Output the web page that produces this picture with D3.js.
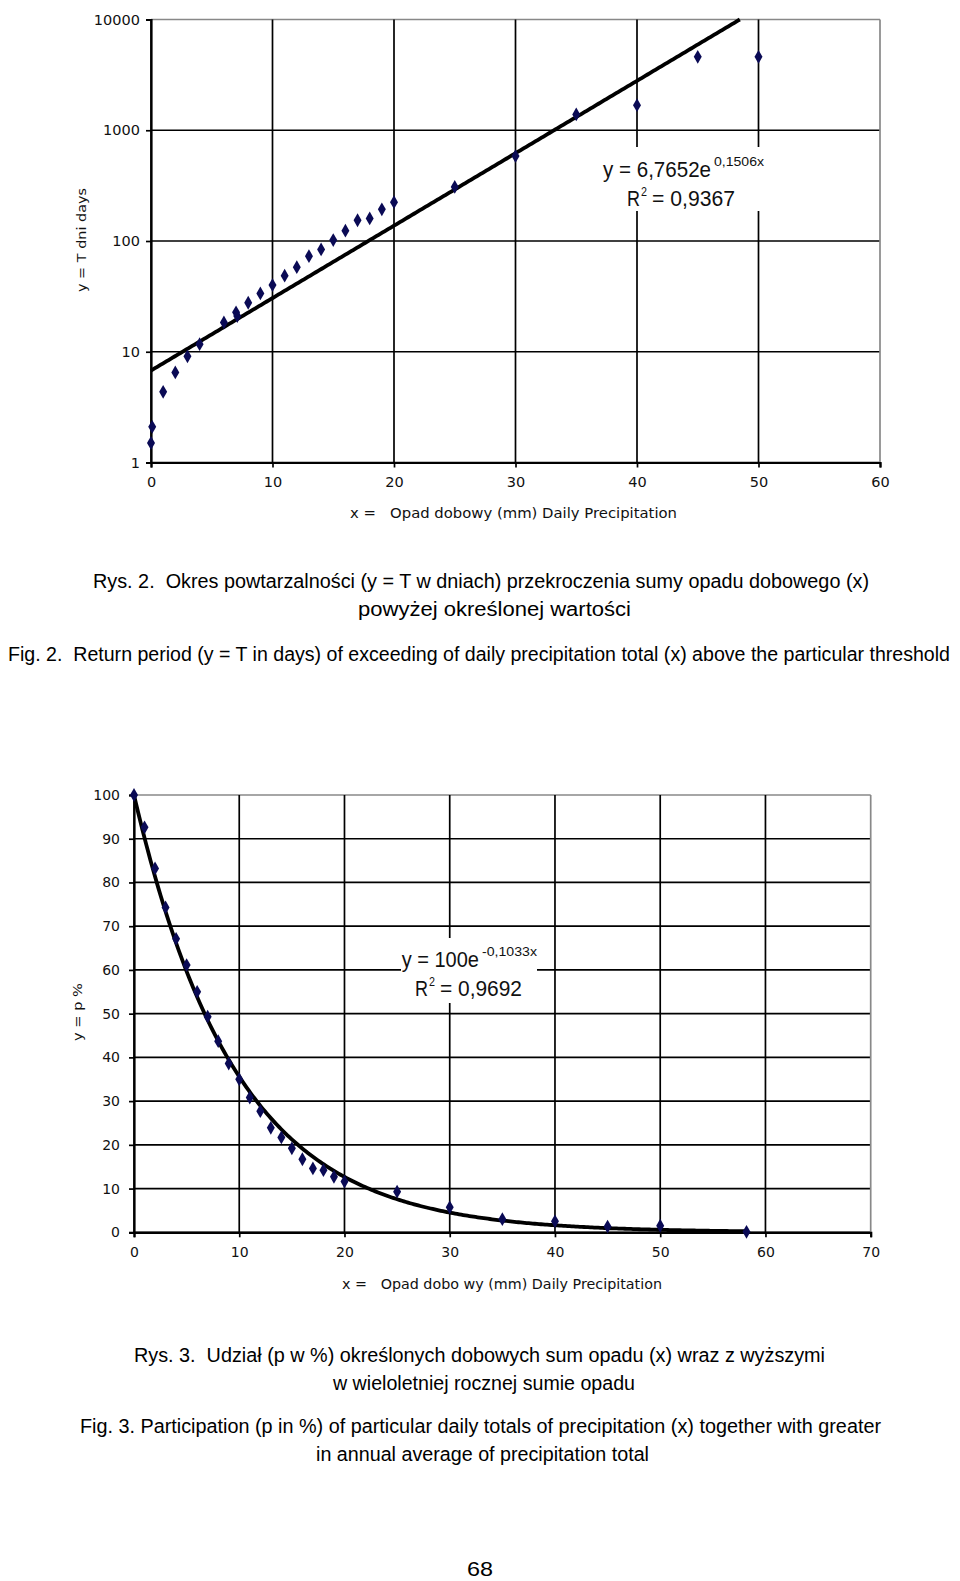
<!DOCTYPE html>
<html>
<head>
<meta charset="utf-8">
<script src="https://cdn.jsdelivr.net/npm/d3@7"></script>
<style>
html,body{margin:0;padding:0;background:#fff;}
svg{display:block;}
text{white-space:pre;}
</style>
</head>
<body>
<svg id="page" width="960" height="1581"></svg>
<script>
// ---------- DATA ----------
// Chart 1: return period T (days) vs daily precipitation threshold (mm), log y
const ch1X = [0, 0.1, 1, 2, 3, 4, 6, 7, 7.1, 8, 9, 10, 11, 12, 13, 14, 15, 16, 17, 18, 19, 20, 25, 30, 35, 40, 45, 50];
const ch1Y = [1.5, 2.1, 4.35, 6.5, 9.1, 11.7, 18.4, 22.7, 21, 27.7, 33.6, 40, 48.6, 58, 73, 84, 102, 124, 154, 160, 193, 224, 308, 584, 1390, 1685, 4600, 4600];
const ch1XTicks = [0, 10, 20, 30, 40, 50, 60];
const ch1YTicks = [1, 10, 100, 1000, 10000];
const ch1FitA = 6.7652, ch1FitB = 0.1506;
const ch1Eq = "y = 6,7652e", ch1EqExp = "0,1506x", ch1R2 = "0,9367";
const ch1XTitle = "x =   Opad dobowy (mm) Daily Precipitation";
const ch1YTitle = "y = T dni days";

// Chart 2: share p (%) vs daily precipitation (mm)
const ch2X = [0, 1, 2, 3, 4, 5, 6, 7, 8, 9, 10, 11, 12, 13, 14, 15, 16, 17, 18, 19, 20, 25, 30, 35, 40, 45, 50, 58.2];
const ch2Y = [100, 92.6, 83.2, 74.3, 67.1, 61.1, 55.0, 49.3, 43.7, 38.6, 35.0, 30.8, 27.7, 23.9, 21.7, 19.2, 16.7, 14.6, 14.2, 12.7, 11.6, 9.3, 5.7, 3.0, 2.5, 1.3, 1.5, 0.1];
const ch2XTicks = [0, 10, 20, 30, 40, 50, 60, 70];
const ch2YTicks = [0, 10, 20, 30, 40, 50, 60, 70, 80, 90, 100];
const ch2FitA = 100, ch2FitB = -0.1033;
const ch2Eq = "y = 100e", ch2EqExp = "-0,1033x", ch2R2 = "0,9692";
const ch2XTitle = "x =   Opad dobo wy (mm) Daily Precipitation";
const ch2YTitle = "y = p %";

const captions = [
  {t: "Rys. 2.  Okres powtarzalności (y = T w dniach) przekroczenia sumy opadu dobowego (x)", x0: 93, x1: 869, y: 581},
  {t: "powyżej określonej wartości", x0: 358, x1: 631, y: 609},
  {t: "Fig. 2.  Return period (y = T in days) of exceeding of daily precipitation total (x) above the particular threshold", x0: 8, x1: 950, y: 653.5},
  {t: "Rys. 3.  Udział (p w %) określonych dobowych sum opadu (x) wraz z wyższymi", x0: 134, x1: 825, y: 1355},
  {t: "w wieloletniej rocznej sumie opadu", x0: 333, x1: 635, y: 1382.5},
  {t: "Fig. 3. Participation (p in %) of particular daily totals of precipitation (x) together with greater", x0: 80, x1: 881, y: 1426},
  {t: "in annual average of precipitation total", x0: 316, x1: 649, y: 1454},
  {t: "68", x0: 467, x1: 493, y: 1569}
];

// ---------- DRAW ----------
const svg = d3.select("#page");
const tickFont = "'DejaVu Sans', sans-serif";
const capFont = "'Liberation Sans', Arial, sans-serif";
const markColor = "#0a0a55";

function chart(cfg) {
  const g = svg.append("g");
  const x = cfg.x, y = cfg.y;
  const [xl, xr] = x.range();
  const [yb, yt] = y.range();

  // gridlines
  g.selectAll(".hg").data(cfg.yTicks).join("line")
    .attr("x1", xl).attr("x2", xr)
    .attr("y1", d => y(d)).attr("y2", d => y(d))
    .attr("stroke", (d, i) => i === cfg.yTicks.length - 1 ? "#888" : "#000")
    .attr("stroke-width", 1.7);
  g.selectAll(".vg").data(cfg.xTicks).join("line")
    .attr("x1", d => x(d)).attr("x2", d => x(d))
    .attr("y1", yb).attr("y2", yt)
    .attr("stroke", (d, i) => i === cfg.xTicks.length - 1 ? "#888" : "#000")
    .attr("stroke-width", 1.7);

  // axes
  const ax = g.append("g").attr("transform", `translate(0,${yb})`)
    .call(d3.axisBottom(x).tickValues(cfg.xTicks).tickSize(5).tickPadding(cfg.xPad).tickFormat(d3.format("d")));
  const ay = g.append("g").attr("transform", `translate(${xl},0)`)
    .call(d3.axisLeft(y).tickValues(cfg.yTicks).tickSize(5).tickPadding(cfg.yPad).tickFormat(d3.format("d")));
  [ax, ay].forEach(a => {
    a.select(".domain").attr("stroke", "#000").attr("stroke-width", 2.2);
    a.selectAll(".tick line").attr("stroke", "#000").attr("stroke-width", 1.7);
    a.selectAll(".tick text").attr("font-family", tickFont).attr("font-size", cfg.tickSize).attr("fill", "#111");
  });

  // equation box
  const b = cfg.box;
  g.append("rect").attr("x", b[0]).attr("y", b[1]).attr("width", b[2] - b[0]).attr("height", b[3] - b[1]).attr("fill", "#fff");

  // trendline
  const xs = d3.range(cfg.fitFrom, cfg.fitTo + 1e-9, (cfg.fitTo - cfg.fitFrom) / 300);
  g.append("path")
    .datum(xs)
    .attr("fill", "none").attr("stroke", "#000").attr("stroke-width", 3.8)
    .attr("d", d3.line().x(d => x(d)).y(d => y(cfg.fitA * Math.exp(cfg.fitB * d))));

  // markers
  const sym = d3.symbol().type(d3.symbolDiamond).size(55);
  g.selectAll(".pt").data(cfg.xs.map((v, i) => [v, cfg.ys[i]])).join("path")
    .attr("d", sym)
    .attr("transform", d => `translate(${x(d[0])},${y(d[1])})`)
    .attr("fill", markColor);

  // equation text
  const e = cfg.eq;
  const eqT = (txt, x0, x1, by, fs) => g.append("text").attr("x", x0).attr("y", by)
    .attr("font-family", capFont).attr("font-size", fs).attr("fill", "#111")
    .attr("textLength", x1 - x0).attr("lengthAdjust", "spacingAndGlyphs").text(txt);
  eqT(cfg.eqText, e.m[0], e.m[1], e.m[2], 22);
  eqT(cfg.eqExp, e.s[0], e.s[1], e.s[2], 13);
  eqT("R", e.r[0], e.r[0] + 13, e.r[2], 22);
  eqT("2", e.r[0] + 14, e.r[0] + 20, e.r[2] - 10, 12);
  eqT("= " + cfg.r2, e.r[0] + 25, e.r[1], e.r[2], 22);

  // axis titles
  g.append("text").attr("x", cfg.xt[0]).attr("y", cfg.xt[2])
    .attr("font-family", tickFont).attr("font-size", 13.5).attr("fill", "#111")
    .attr("textLength", cfg.xt[1] - cfg.xt[0]).attr("lengthAdjust", "spacingAndGlyphs")
    .text(cfg.xTitle);
  g.append("text")
    .attr("transform", `translate(${cfg.yt[0]},${cfg.yt[1]}) rotate(-90)`)
    .attr("font-family", tickFont).attr("font-size", 13).attr("fill", "#111")
    .attr("textLength", cfg.yt[1] - cfg.yt[2]).attr("lengthAdjust", "spacingAndGlyphs")
    .text(cfg.yTitle);
}

chart({
  x: d3.scaleLinear().domain([0, 60]).range([151, 880]),
  y: d3.scaleLog().domain([1, 10000]).range([462.5, 19.5]),
  xTicks: ch1XTicks, yTicks: ch1YTicks, xPad: 9, yPad: 6, tickSize: 14.5,
  xs: ch1X, ys: ch1Y,
  fitA: ch1FitA, fitB: ch1FitB, fitFrom: 0, fitTo: Math.log(10000 / ch1FitA) / ch1FitB,
  box: [597, 147, 770, 211],
  eqText: ch1Eq, eqExp: ch1EqExp, r2: ch1R2,
  eq: {m: [603, 711, 176.5], s: [714, 764, 166], r: [627, 735, 206]},
  xTitle: ch1XTitle, xt: [350, 677, 518],
  yTitle: ch1YTitle, yt: [86, 292, 188]
});

chart({
  x: d3.scaleLinear().domain([0, 70]).range([134, 870.7]),
  y: d3.scaleLinear().domain([0, 100]).range([1232.3, 795]),
  xTicks: ch2XTicks, yTicks: ch2YTicks, xPad: 10, yPad: 9, tickSize: 14,
  xs: ch2X, ys: ch2Y,
  fitA: ch2FitA, fitB: ch2FitB, fitFrom: 0, fitTo: 58.3,
  box: [401, 938, 537, 1003],
  eqText: ch2Eq, eqExp: ch2EqExp, r2: ch2R2,
  eq: {m: [401.7, 479, 967], s: [482, 537, 956], r: [415, 522, 996]},
  xTitle: ch2XTitle, xt: [342, 662, 1288.5],
  yTitle: ch2YTitle, yt: [82, 1041, 983]
});

// captions
svg.selectAll(".cap").data(captions).join("text")
  .attr("x", d => d.x0).attr("y", d => d.y + 7)
  .attr("font-family", capFont).attr("font-size", 20).attr("fill", "#000")
  .attr("textLength", d => d.x1 - d.x0).attr("lengthAdjust", "spacingAndGlyphs")
  .text(d => d.t);
</script>
</body>
</html>
